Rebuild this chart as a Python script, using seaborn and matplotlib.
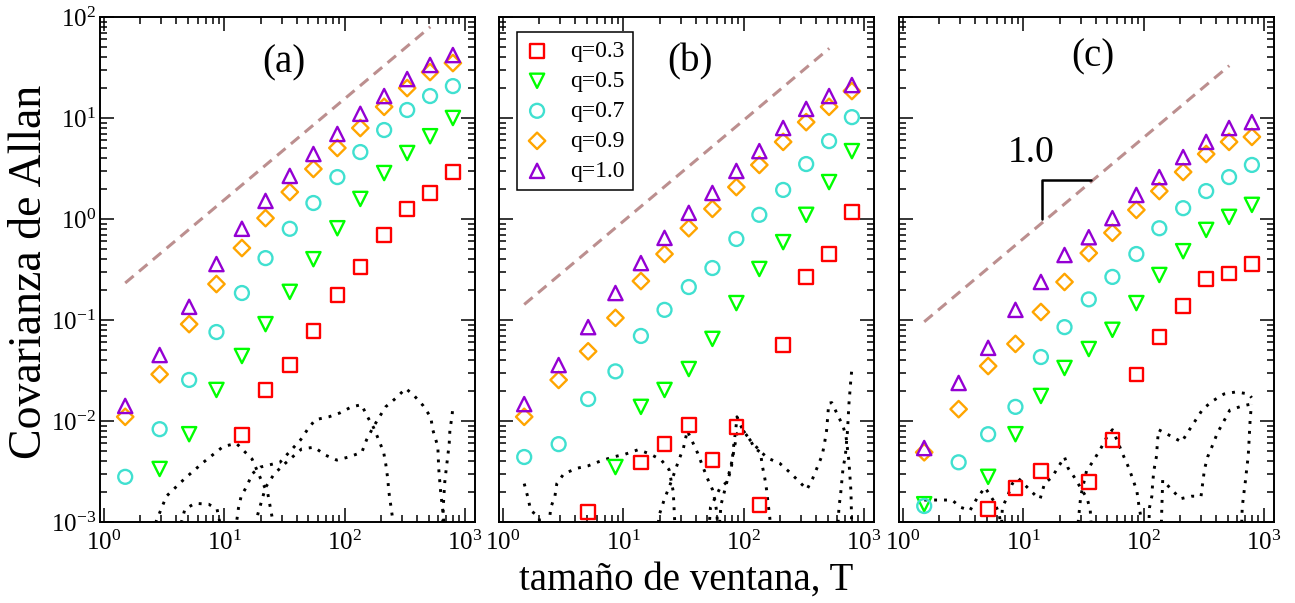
import numpy as np
import matplotlib
matplotlib.use("Agg")
import matplotlib.pyplot as plt
from matplotlib.ticker import LogLocator, NullFormatter
import seaborn as sns

nan = np.nan
# ---------------- data ----------------
T = [1.5, 2.9, 5.1, 8.6, 14, 22, 35, 55, 87, 135, 213, 331, 513, 794]
q_labels = ["q=0.3", "q=0.5", "q=0.7", "q=0.9", "q=1.0"]

a_q03 = [nan, nan, nan, nan, 0.0073, 0.0203, 0.0358, 0.078, 0.177, 0.335, 0.695, 1.26, 1.81, 2.92]
a_q05 = [nan, 0.00335, 0.0074, 0.0203, 0.044, 0.091, 0.19, 0.40, 0.81, 1.58, 2.85, 4.5, 6.6, 10.0]
a_q07 = [0.0028, 0.0083, 0.0255, 0.076, 0.185, 0.41, 0.80, 1.44, 2.6, 4.6, 7.6, 12.0, 16.5, 20.7]
a_q09 = [0.011, 0.029, 0.091, 0.227, 0.516, 1.02, 1.85, 3.13, 5.05, 7.96, 12.9, 19.8, 28.5, 35.0]
a_q10 = [0.0141, 0.045, 0.135, 0.358, 0.80, 1.51, 2.67, 4.4, 6.95, 11.0, 16.5, 24.3, 33.5, 42.0]

b_q03 = [nan, nan, 0.00126, nan, 0.0039, 0.0059, 0.0091, 0.0041, 0.0087, 0.00147, 0.0565, 0.267, 0.45, 1.17]
b_q05 = [nan, nan, nan, 0.0035, 0.0138, 0.0203, 0.0327, 0.065, 0.147, 0.32, 0.59, 1.1, 2.32, 4.7]
b_q07 = [0.0044, 0.0059, 0.0165, 0.031, 0.0695, 0.126, 0.212, 0.327, 0.634, 1.1, 1.94, 3.5, 5.9, 10.2]
b_q09 = [0.011, 0.0255, 0.049, 0.105, 0.243, 0.45, 0.81, 1.26, 2.07, 3.43, 5.8, 9.1, 12.9, 18.5]
b_q10 = [0.0147, 0.0358, 0.085, 0.185, 0.366, 0.65, 1.15, 1.81, 2.99, 4.7, 7.96, 12.3, 16.5, 21.2]

c_q03 = [nan, nan, 0.00135, 0.00217, 0.0032, nan, 0.0025, 0.0065, 0.029, 0.068, 0.138, 0.255, 0.29, 0.358]
c_q05 = [0.0015, nan, 0.0028, 0.0074, 0.0177, 0.0335, 0.0516, 0.08, 0.147, 0.279, 0.48, 0.78, 1.05, 1.38]
c_q07 = [0.00144, 0.0039, 0.0074, 0.0138, 0.043, 0.085, 0.16, 0.267, 0.45, 0.81, 1.28, 1.89, 2.6, 3.43]
c_q09 = [0.0049, 0.0131, 0.035, 0.058, 0.12, 0.238, 0.46, 0.73, 1.23, 1.89, 2.92, 4.4, 5.8, 6.5]
c_q10 = [0.0054, 0.0238, 0.053, 0.126, 0.238, 0.44, 0.66, 1.02, 1.73, 2.6, 4.1, 5.8, 7.96, 9.1]

# reference slope-1 guide lines: y = amp * T
guide_T = [1.5, 515]
guide_amp = [0.155, 0.095, 0.064]

# null-model (dotted) curves, values below 1e-3 fall outside the axis
a_n1_x = [2.5, 2.7, 3.3, 4.7, 6.7, 9.8, 12.6, 17, 20, 23, 25, 27]
a_n1_y = [5e-4, 1e-3, 1.8e-3, 2.7e-3, 3.9e-3, 5.6e-3, 6.0e-3, 4.2e-3, 2.7e-3, 1.9e-3, 1.1e-3, 5e-4]
a_n2_x = [4.0, 4.3, 4.7, 5.7, 7.4, 8.7, 9.1, 9.8, 12.5, 13.1, 13.8, 15.5, 17, 20, 29, 34, 43, 49, 57, 74, 91, 114, 138, 155, 174, 192, 211, 220, 228, 233, 241, 250, 262]
a_n2_y = [5e-4, 9e-4, 1.34e-3, 1.53e-3, 1.5e-3, 1.34e-3, 1.04e-3, 5e-4, 9e-4, 1.37e-3, 1.8e-3, 2.3e-3, 3.0e-3, 3.5e-3, 3.9e-3, 4.8e-3, 6.5e-3, 8.2e-3, 1.03e-2, 1.1e-2, 1.2e-2, 1.38e-2, 1.45e-2, 1.1e-2, 8.6e-3, 6.5e-3, 4.9e-3, 3.7e-3, 2.7e-3, 2.0e-3, 1.5e-3, 1.1e-3, 5e-4]
a_n3_x = [17, 19, 22, 26, 32, 44, 56, 69, 86, 108, 139, 152, 171, 192, 219, 266, 322, 380, 447, 520, 540, 595, 605, 630, 660, 690]
a_n3_y = [6e-4, 1.2e-3, 2.2e-3, 3.0e-3, 3.8e-3, 5.3e-3, 5.5e-3, 4.6e-3, 4.1e-3, 4.4e-3, 4.9e-3, 6.5e-3, 8.5e-3, 1.07e-2, 1.38e-2, 1.68e-2, 2.1e-2, 1.77e-2, 1.43e-2, 1.09e-2, 8.2e-3, 5.6e-3, 3.4e-3, 1.9e-3, 1.2e-3, 5e-4]
a_n4_x = [640, 660, 670, 680, 700, 720, 740, 750, 780, 794]
a_n4_y = [5e-4, 1.4e-3, 1.9e-3, 2.5e-3, 3.4e-3, 4.5e-3, 6.0e-3, 8.2e-3, 1.1e-2, 1.4e-2]

b_n1_x = [1.5, 1.6, 1.7, 1.85, 2.0, 2.1]
b_n1_y = [2.4e-3, 1.8e-3, 1.3e-3, 1.2e-3, 1.1e-3, 5e-4]
b_n2_x = [2.3, 2.5, 2.7, 2.8, 3.2, 4.1, 5.1, 6.4, 8.2, 10.4, 13.3, 16.8, 20.7, 24, 26, 27.5, 50, 53, 64, 73, 79, 81, 83, 86, 88, 98, 114, 123, 138, 143, 150, 155, 160, 165, 172]
b_n2_y = [6e-4, 1.4e-3, 1.8e-3, 2.4e-3, 3.0e-3, 3.4e-3, 3.6e-3, 4.0e-3, 4.4e-3, 4.7e-3, 5.2e-3, 4.7e-3, 4.1e-3, 3.3e-3, 2.0e-3, 5e-4, 5e-4, 1.4e-3, 2.2e-3, 2.5e-3, 3.4e-3, 4.5e-3, 6.0e-3, 8.2e-3, 1.1e-2, 8.2e-3, 6.4e-3, 5.4e-3, 4.9e-3, 3.6e-3, 2.7e-3, 2.1e-3, 1.5e-3, 1.1e-3, 5e-4]
b_n3_x = [18, 20, 22, 25, 28.7, 31.6, 34, 37.6, 41.5, 45.5, 50, 55, 58, 60, 62]
b_n3_y = [5e-4, 1.2e-3, 1.7e-3, 2.5e-3, 4.0e-3, 5.4e-3, 8.0e-3, 6.2e-3, 4.8e-3, 3.6e-3, 2.7e-3, 2.1e-3, 1.6e-3, 1.2e-3, 5e-4]
b_n4_x = [60, 65, 72, 80, 88, 98, 114, 138, 158, 200, 242, 281, 336, 375, 410, 450, 470, 490, 510, 540, 600, 670, 710, 750, 780, 800]
b_n4_y = [5e-4, 1.5e-3, 2.4e-3, 4.0e-3, 7.5e-3, 8.2e-3, 6.4e-3, 5.0e-3, 4.3e-3, 3.8e-3, 3.1e-3, 2.6e-3, 2.1e-3, 2.7e-3, 3.5e-3, 4.6e-3, 6.0e-3, 8.2e-3, 1.5e-2, 1.52e-2, 1.17e-2, 8.9e-3, 7.0e-3, 4.0e-3, 2.0e-3, 5e-4]
b_n5_x = [590, 620, 640, 670, 700, 730, 750, 765, 780, 800]
b_n5_y = [5e-4, 1.4e-3, 1.9e-3, 3.4e-3, 4.5e-3, 8.0e-3, 1.47e-2, 1.98e-2, 2.66e-2, 3.6e-2]

c_n1_x = [1.5, 2.0, 2.56, 3.0, 3.6, 4.1, 4.8, 5.7, 6.3, 7.0]
c_n1_y = [1.65e-3, 1.65e-3, 1.65e-3, 1.4e-3, 1.3e-3, 1.7e-3, 2.2e-3, 1.6e-3, 1.2e-3, 5e-4]
c_n2_x = [6.4, 6.7, 7.4, 8.1, 9.1, 10.8, 12.8, 13.8, 15, 17.4, 19.2, 22, 23.6, 26.4, 29.8, 34, 36, 38]
c_n2_y = [5e-4, 1.4e-3, 1.8e-3, 2.4e-3, 2.7e-3, 2.2e-3, 1.8e-3, 1.7e-3, 2.4e-3, 2.8e-3, 3.4e-3, 4.4e-3, 3.4e-3, 2.8e-3, 2.2e-3, 1.7e-3, 1.3e-3, 5e-4]
c_n3_x = [27, 30, 33.5, 38, 43.5, 49, 55, 61, 67, 74, 81, 88, 91, 95, 100, 108, 112, 117, 119, 122, 128, 130, 133, 168, 207, 237, 272, 310, 375, 465, 585, 750, 790]
c_n3_y = [5e-4, 1.8e-3, 3.2e-3, 4.0e-3, 5.2e-3, 6.8e-3, 8.2e-3, 6.2e-3, 4.7e-3, 3.6e-3, 2.7e-3, 2.0e-3, 1.5e-3, 1.1e-3, 5e-4, 5e-4, 1.4e-3, 1.8e-3, 2.5e-3, 3.3e-3, 4.5e-3, 6.0e-3, 8.2e-3, 7.1e-3, 6.2e-3, 8.0e-3, 1.03e-2, 1.31e-2, 1.58e-2, 1.85e-2, 1.94e-2, 1.85e-2, 1.7e-2]
c_n4_x = [138, 144, 170, 203, 250, 300, 320, 340, 375, 410, 465, 520, 660, 740, 790]
c_n4_y = [5e-4, 2.6e-3, 2.1e-3, 1.7e-3, 1.8e-3, 1.8e-3, 3.3e-3, 4.4e-3, 5.8e-3, 7.6e-3, 1.0e-2, 1.28e-2, 1.41e-2, 1.45e-2, 1.47e-2]
c_n5_x = [640, 660, 680, 700, 720, 740, 750, 760, 770, 790]
c_n5_y = [5e-4, 1.4e-3, 1.9e-3, 2.5e-3, 3.4e-3, 4.5e-3, 6.0e-3, 8.2e-3, 1.1e-2, 1.47e-2]

# slope triangle (panel c)
slope_x = [14.4, 14.4, 36.2]
slope_y = [1.0, 2.45, 2.45]
slope_text = "1.0"

panel_tags = ["(a)", "(b)", "(c)"]
x_label = "tamaño de ventana, T"
y_label = "Covarianza de Allan"

# ---------------- style ----------------
sns.set_theme(style="ticks")
plt.rcParams["font.family"] = ["Liberation Serif", "DejaVu Serif"]
plt.rcParams["mathtext.fontset"] = "custom"
plt.rcParams["mathtext.rm"] = "Liberation Serif"
plt.rcParams["axes.linewidth"] = 1.4
for key in ["text.color", "axes.labelcolor", "xtick.color", "ytick.color",
            "xtick.labelcolor", "ytick.labelcolor", "axes.edgecolor"]:
    plt.rcParams[key] = "black"

colors = ["#ff0000", "#00ff00", "#40e0d0", "#ffa500", "#9400d3"]
markers = ["s", "v", "o", "D", "^"]
sizes = [95, 105, 100, 70, 105]
guide_color = "#bc8f8f"

panels = [
    ([a_q03, a_q05, a_q07, a_q09, a_q10],
     [(a_n1_x, a_n1_y), (a_n2_x, a_n2_y), (a_n3_x, a_n3_y), (a_n4_x, a_n4_y)]),
    ([b_q03, b_q05, b_q07, b_q09, b_q10],
     [(b_n1_x, b_n1_y), (b_n2_x, b_n2_y), (b_n3_x, b_n3_y), (b_n4_x, b_n4_y), (b_n5_x, b_n5_y)]),
    ([c_q03, c_q05, c_q07, c_q09, c_q10],
     [(c_n1_x, c_n1_y), (c_n2_x, c_n2_y), (c_n3_x, c_n3_y), (c_n4_x, c_n4_y), (c_n5_x, c_n5_y)]),
]

fig = plt.figure(figsize=(12.95, 6.03), dpi=100)
lefts = [100 / 1295, 499 / 1295, 899 / 1295]
width = 375 / 1295
bottom = 81 / 603
height = 505 / 603
tag_pos = [(0.489, 0.909), (0.509, 0.911), (0.516, 0.921)]

for i, (series, noise) in enumerate(panels):
    ax = fig.add_axes([lefts[i], bottom, width, height])
    ax.set_xscale("log")
    ax.set_yscale("log")

    # dotted null curves
    for nx, ny in noise:
        sns.lineplot(x=nx, y=ny, ax=ax, color="black", linewidth=2.1,
                     linestyle=(0, (1, 2.4)), sort=False, estimator=None)

    # slope-1 guide
    gy = [guide_amp[i] * t for t in guide_T]
    sns.lineplot(x=guide_T, y=gy, ax=ax, color=guide_color, linewidth=2.2,
                 linestyle=(0, (3.6, 2.3)), sort=False, estimator=None)

    handles = []
    for k, ys in enumerate(series):
        sns.scatterplot(x=T, y=ys, ax=ax, marker=markers[k], s=sizes[k],
                        facecolor="none", edgecolor=colors[k], linewidth=1.7,
                        zorder=3 + k)
        handles.append(ax.collections[-1])

    ax.set_xlim(0.926, 1212)
    ax.set_ylim(1e-3, 1e2)

    ax.xaxis.set_major_locator(LogLocator(base=10, numticks=10))
    ax.xaxis.set_minor_locator(LogLocator(base=10, subs=np.arange(2, 10), numticks=20))
    ax.yaxis.set_major_locator(LogLocator(base=10, numticks=10))
    ax.yaxis.set_minor_locator(LogLocator(base=10, subs=np.arange(2, 10), numticks=20))
    ax.xaxis.set_minor_formatter(NullFormatter())
    ax.yaxis.set_minor_formatter(NullFormatter())
    ax.tick_params(which="both", direction="in", top=True, right=True,
                   colors="black", labelcolor="black", width=1.1)
    ax.tick_params(which="major", length=10)
    ax.tick_params(which="minor", length=5)
    ax.tick_params(axis="x", which="major", labelsize=18, pad=6)
    ax.tick_params(axis="y", which="major", labelsize=18, pad=3)
    if i > 0:
        ax.tick_params(axis="y", labelleft=False)
    for sp in ax.spines.values():
        sp.set_color("black")
        sp.set_linewidth(1.4)
    ax.set_xlabel("")
    ax.set_ylabel("")

    ax.text(tag_pos[i][0], tag_pos[i][1], panel_tags[i], transform=ax.transAxes,
            ha="center", va="center", fontsize=28, color="black")

    if i == 1:
        leg = ax.legend(handles, q_labels, loc="upper left",
                        bbox_to_anchor=(0.048, 0.970), borderaxespad=0,
                        fontsize=17, frameon=True, fancybox=False,
                        edgecolor="black", framealpha=1, scatterpoints=1,
                        handlelength=1.0, handletextpad=0.9, labelspacing=0.36,
                        borderpad=0.35)
        leg.get_frame().set_linewidth(1.1)
        for t in leg.get_texts():
            t.set_color("black")

    if i == 2:
        sns.lineplot(x=slope_x, y=slope_y, ax=ax, color="black", linewidth=1.8,
                     sort=False, estimator=None)
        ax.text(11.7, 4.5, slope_text, ha="center", va="center", fontsize=27,
                color="black")

fig.text(686 / 1295, 13 / 603, x_label, ha="center", va="baseline", fontsize=28,
         color="black")
fig.text(30 / 1295, 0.55, y_label, ha="center", va="center", rotation=90,
         fontsize=33, color="black")

fig.savefig("out.png", dpi=100)
